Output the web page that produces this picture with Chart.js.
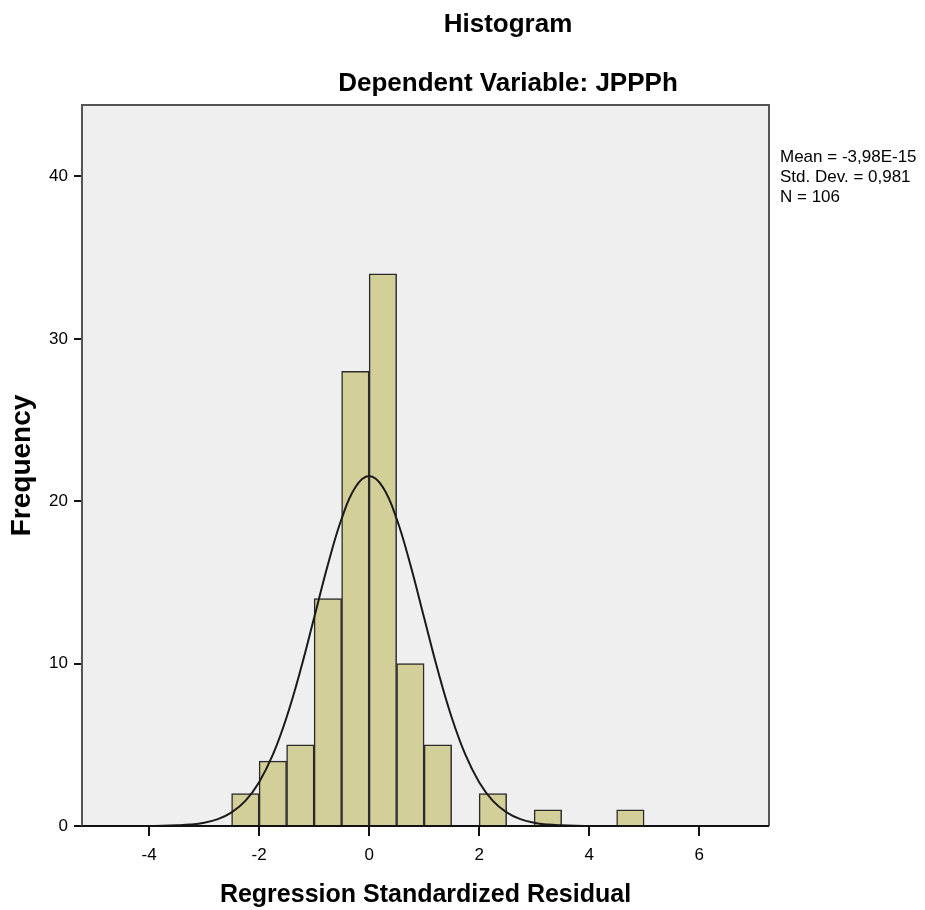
<!DOCTYPE html>
<html>
<head>
<meta charset="utf-8">
<script src="https://cdn.jsdelivr.net/npm/chart.js@4"></script>
<style>
  body { margin: 0; background: white; }
  canvas { display: block; }
</style>
</head>
<body>
<canvas id="chart-hist" width="925" height="910"></canvas>
<script>
// Histogram bins (lower edge, width 0.5) and counts
const binStarts = [-2.5, -2.0, -1.5, -1.0, -0.5, 0.0, 0.5, 1.0, 1.5, 2.0, 2.5, 3.0, 3.5, 4.0, 4.5];
const binCounts = [2, 4, 5, 14, 28, 34, 10, 5, 0, 2, 0, 1, 0, 0, 1];
const binWidth = 0.5;

// Normal curve
const curveX = [-4, -3.75, -3.5, -3.25, -3, -2.75, -2.5, -2.25, -2, -1.75, -1.5, -1.25, -1, -0.75, -0.5, -0.25,
    0, 0.25, 0.5, 0.75, 1, 1.25, 1.5, 1.75, 2, 2.25, 2.5, 2.75, 3, 3.25, 3.5, 3.75, 4];
const curveY = [0, 0.01, 0.04, 0.09, 0.2, 0.42, 0.84, 1.55, 2.7, 4.39, 6.7, 9.57, 12.82, 16.09, 18.92, 20.86,
    21.55, 20.86, 18.92, 16.09, 12.82, 9.57, 6.7, 4.39, 2.7, 1.55, 0.84, 0.42, 0.2, 0.09, 0.04, 0.01, 0];

const xTicks = [-4, -2, 0, 2, 4, 6];
const yTicks = [0, 10, 20, 30, 40];

const statsLines = ['Mean = -3,98E-15', 'Std. Dev. = 0,981', 'N = 106'];
const titleText = 'Histogram';
const subtitleText = 'Dependent Variable: JPPPh';

const FONT = '"Liberation Sans", Arial, sans-serif';

// background + frame + headings
const decorPlugin = {
    id: 'decor',
    beforeDraw(chart) {
        const { ctx, chartArea: a } = chart;
        ctx.save();
        ctx.fillStyle = '#efefef';
        ctx.fillRect(a.left, a.top, a.right - a.left, a.bottom - a.top);
        ctx.restore();
    },
    afterDraw(chart) {
        const { ctx, chartArea: a } = chart;
        ctx.save();
        ctx.strokeStyle = '#555';
        ctx.lineWidth = 2;
        ctx.beginPath();
        ctx.moveTo(a.left, a.bottom);
        ctx.lineTo(a.left, a.top);
        ctx.lineTo(a.right, a.top);
        ctx.lineTo(a.right, a.bottom);
        ctx.stroke();
        ctx.strokeStyle = '#111';
        ctx.beginPath();
        ctx.moveTo(a.left, a.bottom);
        ctx.lineTo(a.right, a.bottom);
        ctx.stroke();

        ctx.fillStyle = '#000';
        ctx.textAlign = 'center';
        ctx.textBaseline = 'middle';
        ctx.font = 'bold 26px ' + FONT;
        ctx.fillText(titleText, 508, 25);
        ctx.fillText(subtitleText, 508, 84);

        ctx.textAlign = 'left';
        ctx.font = '17px ' + FONT;
        statsLines.forEach((s, i) => ctx.fillText(s, 780, 157 + i * 20));
        ctx.restore();
    }
};

const bars = binStarts.map((s, i) => ({ x: s + binWidth / 2, y: binCounts[i] }));
const curve = curveX.map((x, i) => ({ x: x, y: curveY[i] }));

new Chart(document.getElementById('chart-hist'), {
    type: 'bar',
    data: {
        datasets: [
            {
                type: 'line',
                data: curve,
                borderColor: '#1a1a1a',
                borderWidth: 2,
                pointRadius: 0,
                tension: 0.4,
                fill: false,
                order: 0
            },
            {
                type: 'bar',
                data: bars,
                backgroundColor: '#d3cf98',
                borderColor: '#2b2b2b',
                borderWidth: 1.5,
                barPercentage: 1,
                categoryPercentage: 1,
                order: 1
            }
        ]
    },
    options: {
        responsive: false,
        animation: false,
        layout: { padding: { left: 0, top: 105, right: 156, bottom: 0 } },
        plugins: {
            legend: { display: false },
            tooltip: { enabled: false }
        },
        scales: {
            x: {
                type: 'linear',
                min: -5.22,
                max: 7.27,
                offset: false,
                afterFit: s => { s.height = 84; },
                afterBuildTicks: s => { s.ticks = xTicks.map(v => ({ value: v })); },
                grid: { offset: false, drawOnChartArea: false, drawTicks: true, tickLength: 10, color: '#111', lineWidth: 2 },
                border: { display: false },
                ticks: { color: '#000', font: { family: FONT, size: 17 }, padding: 9, callback: v => v },
                title: {
                    display: true,
                    text: 'Regression Standardized Residual',
                    color: '#000',
                    font: { family: FONT, size: 25, weight: 'bold' },
                    padding: { top: 6, bottom: 0 }
                }
            },
            y: {
                type: 'linear',
                min: 0,
                max: 44.4,
                afterFit: s => { s.width = 82; },
                afterBuildTicks: s => { s.ticks = yTicks.map(v => ({ value: v })); },
                grid: { drawOnChartArea: false, drawTicks: true, tickLength: 8, color: '#111', lineWidth: 2 },
                border: { display: false },
                ticks: { color: '#000', font: { family: FONT, size: 17 }, padding: 6 },
                title: {
                    display: true,
                    text: 'Frequency',
                    color: '#000',
                    font: { family: FONT, size: 28, weight: 'bold' },
                    padding: { top: 5, bottom: 0 }
                }
            }
        }
    },
    plugins: [decorPlugin]
});
</script>
</body>
</html>
